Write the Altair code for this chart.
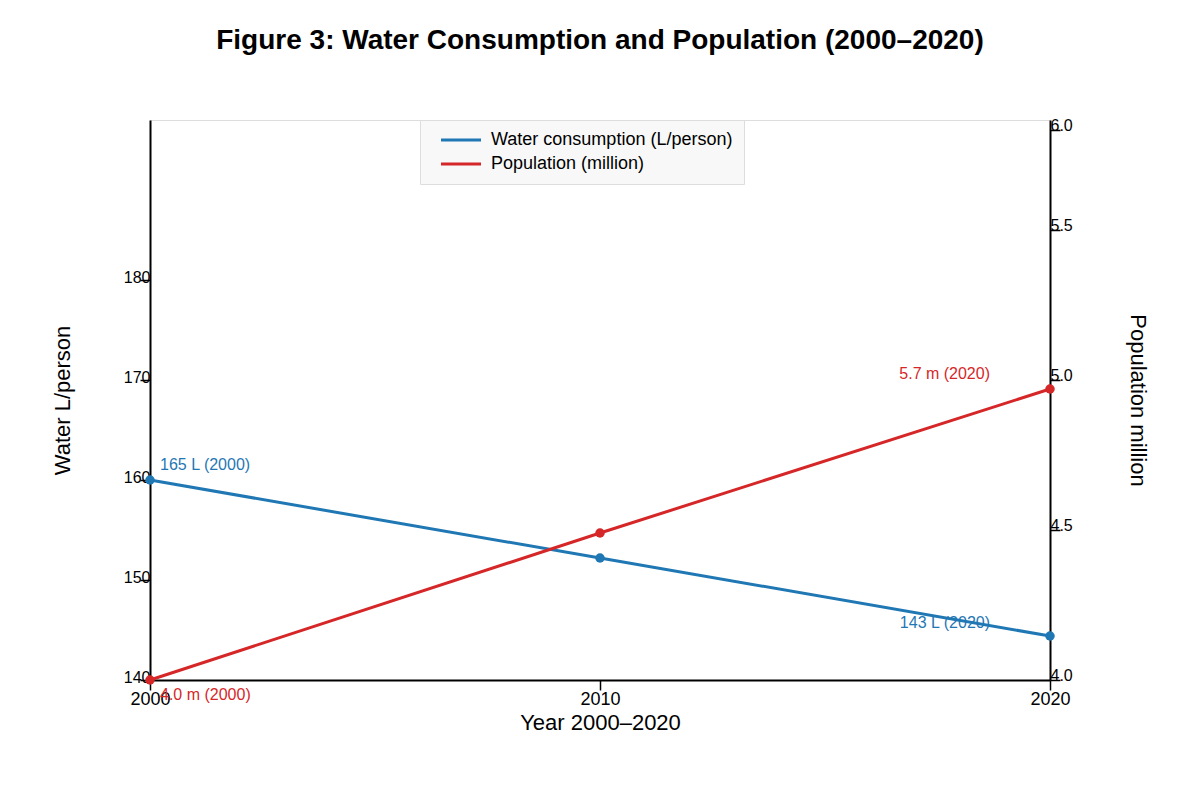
import altair as alt
import pandas as pd

# ---- data ----
years = [2000, 2010, 2020]
water = [160.0, 152.2, 144.4]          # plotted position on left axis
population = [4.0, 4.49, 4.97]         # plotted position on right axis
water_labels = ["165 L (2000)", "", "143 L (2020)"]
pop_labels = ["4.0 m (2000)", "", "5.7 m (2020)"]

left_ticks = [140, 150, 160, 170, 180]
right_ticks = [4.0, 4.5, 5.0, 5.5, 5.8333]
right_tick_labels = ["4.0", "4.5", "5.0", "5.5", "6.0"]
x_ticks = [2000, 2010, 2020]

series_names = ["Water consumption (L/person)", "Population (million)"]
BLUE = "#1f77b4"
RED = "#d62728"
FONT = "Liberation Sans"

df = pd.DataFrame({
    "year": years,
    "water": water,
    "pop": population,
    "wlabel": water_labels,
    "plabel": pop_labels,
})

color_scale = alt.Scale(domain=series_names, range=[BLUE, RED])
legend = alt.Legend(
    title=None, orient="none", legendX=270, legendY=0, direction="vertical",
    fillColor="#f8f8f8", strokeColor="#dddddd", padding=11,
    symbolType="M0.2,0H8.2", symbolSize=100, symbolStrokeWidth=3, symbolOffset=0,
    labelFont=FONT, labelFontSize=18, labelColor="black", labelOffset=42,
    rowPadding=6, labelLimit=600,
)

x_scale = alt.Scale(domain=[2000, 2020], nice=False, zero=False)
x_axis = alt.Axis(
    values=x_ticks, format="d", title="Year 2000–2020",
    titleX=450, titleY=42, titleBaseline="middle", titleAlign="center",
    titleFont=FONT, titleFontSize=22, titleFontWeight="normal", titleColor="black",
    labelFont=FONT, labelFontSize=18, labelColor="black", labelPadding=0,
    tickSize=10, tickColor="black", tickWidth=1.5,
    domainColor="black", domainWidth=2, grid=False, labelFlush=False,
)
X = alt.X("year:Q", scale=x_scale, axis=x_axis)

wy_scale = alt.Scale(domain=[140, 196], nice=False, zero=False)
wy_axis = alt.Axis(
    orient="left", values=left_ticks, title="Water L/person",
    titleX=-88, titleY=280, titleAngle=-90, titleBaseline="middle", titleAlign="center",
    titleFont=FONT, titleFontSize=22, titleFontWeight="normal", titleColor="black",
    labelFont=FONT, labelFontSize=16, labelColor="black", labelPadding=-10,
    labelBaseline="alphabetic", labelOffset=2,
    tickSize=10, tickColor="black", tickWidth=1.5,
    domainColor="black", domainWidth=2, grid=False,
)
WY = alt.Y("water:Q", scale=wy_scale, axis=wy_axis)

py_scale = alt.Scale(domain=[4.0, 5.8667], nice=False, zero=False)
label_expr = "datum.value > 5.7 ? '" + right_tick_labels[-1] + "' : format(datum.value, '.1f')"
py_axis = alt.Axis(
    orient="right", values=right_ticks, labelExpr=label_expr, title="Population million",
    titleX=87, titleY=280, titleAngle=90, titleBaseline="middle", titleAlign="center",
    titleFont=FONT, titleFontSize=22, titleFontWeight="normal", titleColor="black",
    labelFont=FONT, labelFontSize=16, labelColor="black", labelPadding=-10,
    labelBaseline="alphabetic", labelAlign="left",
    tickSize=10, tickColor="black", tickWidth=1.5,
    domainColor="black", domainWidth=2, grid=False,
)
PY = alt.Y("pop:Q", scale=py_scale, axis=py_axis)

base = alt.Chart(df)

# ---- water group (left axis) ----
w_text_l = base.transform_filter("datum.year == 2000").mark_text(
    align="left", baseline="middle", dx=10, dy=-15, font=FONT, fontSize=16, color=BLUE
).encode(x=X, y=WY, text="wlabel:N")
w_text_r = base.transform_filter("datum.year == 2020").mark_text(
    align="right", baseline="middle", dx=-60, dy=-13, font=FONT, fontSize=16, color=BLUE
).encode(x=X, y=WY, text="wlabel:N")
w_line = base.transform_calculate(series="'" + series_names[0] + "'").mark_line(
    strokeWidth=3
).encode(
    x=X, y=WY,
    color=alt.Color("series:N", scale=color_scale, legend=legend),
)
w_pts = base.mark_point(filled=True, size=90, opacity=1, color=BLUE).encode(x=X, y=WY)
water_layer = alt.layer(w_text_l, w_text_r, w_line, w_pts)

# ---- population group (right axis) ----
p_text_l = base.transform_filter("datum.year == 2000").mark_text(
    align="left", baseline="middle", dx=10, dy=15, font=FONT, fontSize=16, color=RED
).encode(x=X, y=PY, text="plabel:N")
p_text_r = base.transform_filter("datum.year == 2020").mark_text(
    align="right", baseline="middle", dx=-60, dy=-15, font=FONT, fontSize=16, color=RED
).encode(x=X, y=PY, text="plabel:N")
p_line = base.transform_calculate(series="'" + series_names[1] + "'").mark_line(
    strokeWidth=3
).encode(
    x=X, y=PY,
    color=alt.Color("series:N", scale=color_scale, legend=legend),
)
p_pts = base.mark_point(filled=True, size=90, opacity=1, color=RED).encode(x=X, y=PY)
pop_layer = alt.layer(p_text_l, p_text_r, p_line, p_pts)

chart = alt.layer(water_layer, pop_layer).resolve_scale(y="independent").properties(
    width=900, height=560,
    padding={"left": 142, "top": 112, "right": 134, "bottom": 100},
    autosize=alt.AutoSizeParams(type="none"),
    title=alt.TitleParams(
        "Figure 3: Water Consumption and Population (2000–2020)",
        font=FONT, fontSize=28, fontWeight="bold", color="black",
        anchor="middle", baseline="alphabetic", offset=40,
    ),
).configure_view(strokeWidth=0, stroke="transparent").configure(background="white")

chart.save("out.html", embed_options={"renderer": "svg", "actions": False})
